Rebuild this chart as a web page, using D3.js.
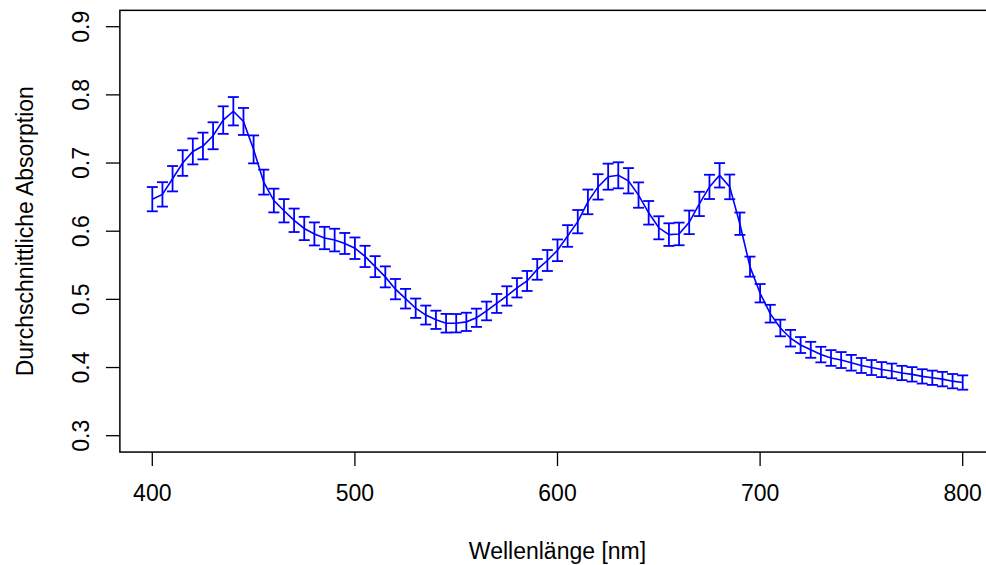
<!DOCTYPE html>
<html><head><meta charset="utf-8">
<script src="https://cdn.jsdelivr.net/npm/d3@7"></script>
<style>body{margin:0;background:#fff}svg{display:block}text{font-family:"Liberation Sans",Arial,Helvetica,sans-serif;fill:#000}</style>
</head><body><svg id="c" width="986" height="565"></svg>
<script>
const wavelengths = [400,405,410,415,420,425,430,435,440,445,450,455,460,465,470,475,480,485,490,495,
500,505,510,515,520,525,530,535,540,545,550,555,560,565,570,575,580,585,590,595,
600,605,610,615,620,625,630,635,640,645,650,655,660,665,670,675,680,685,690,695,
700,705,710,715,720,725,730,735,740,745,750,755,760,765,770,775,780,785,790,795,800];
const meanAbs = [0.647,0.654,0.677,0.700,0.717,0.725,0.740,0.763,0.776,0.761,0.720,0.672,0.645,0.630,0.616,0.604,0.596,0.590,0.587,0.582,
0.575,0.563,0.548,0.533,0.515,0.501,0.487,0.477,0.470,0.465,0.465,0.467,0.473,0.483,0.494,0.505,0.517,0.527,0.544,0.557,
0.572,0.593,0.614,0.643,0.665,0.680,0.682,0.674,0.653,0.627,0.605,0.595,0.596,0.613,0.640,0.665,0.682,0.665,0.611,0.548,
0.509,0.479,0.458,0.443,0.433,0.426,0.419,0.414,0.411,0.407,0.403,0.400,0.397,0.395,0.392,0.390,0.387,0.385,0.383,0.380,0.378];
const errAbs = [0.0178,0.0179,0.0186,0.0188,0.0190,0.0196,0.0198,0.0202,0.0208,0.0198,0.0205,0.0183,0.0174,0.0171,0.0172,0.0171,0.0169,0.0164,0.0166,0.0154,
0.0158,0.0156,0.0154,0.0154,0.0149,0.0144,0.0142,0.0139,0.0134,0.0137,0.0135,0.0134,0.0134,0.0137,0.0139,0.0142,0.0142,0.0147,0.0152,0.0154,
0.0159,0.0159,0.0171,0.0181,0.0186,0.0191,0.0191,0.0186,0.0186,0.0173,0.0169,0.0166,0.0166,0.0173,0.0178,0.0178,0.0179,0.0181,0.0164,0.0147,
0.0135,0.0130,0.0122,0.0122,0.0117,0.0117,0.0114,0.0115,0.0117,0.0115,0.0110,0.0110,0.0110,0.0108,0.0105,0.0106,0.0105,0.0105,0.0106,0.0105,0.0105];
const xTicks = [400,500,600,700,800];
const yTicks = [0.3,0.4,0.5,0.6,0.7,0.8,0.9];
const xLabel = "Wellenlänge [nm]";
const yLabel = "Durchschnittliche Absorption";

const svg = d3.select("#c");
const x = d3.scaleLinear().domain([400,800]).range([152.3,962.7]);
const y = d3.scaleLinear().domain([0.3,0.9]).range([435.7,26.7]);
const x0 = x(384), x1 = x(816), y0 = y(0.276), y1 = y(0.924);
const fs = 23;
const blue = "#0000ff";

const data = wavelengths.map((w,i)=>({w, m: meanAbs[i], e: errAbs[i]}));

// line
svg.append("path").datum(data)
  .attr("d", d3.line().x(d=>x(d.w)).y(d=>y(d.m)))
  .attr("fill","none").attr("stroke",blue).attr("stroke-width",1.6);

// error bars
const cap = 5.5;
const eb = svg.append("g").attr("stroke",blue).attr("stroke-width",1.8).attr("fill","none");
data.forEach(d=>{
  const cx = x(d.w), ty = y(d.m+d.e), by = y(d.m-d.e);
  eb.append("line").attr("x1",cx).attr("x2",cx).attr("y1",ty).attr("y2",by);
  eb.append("line").attr("x1",cx-cap).attr("x2",cx+cap).attr("y1",ty).attr("y2",ty);
  eb.append("line").attr("x1",cx-cap).attr("x2",cx+cap).attr("y1",by).attr("y2",by);
});

// box
svg.append("rect").attr("x",x0).attr("y",y1).attr("width",x1-x0).attr("height",y0-y1)
  .attr("fill","none").attr("stroke","#000").attr("stroke-width",1.5);

// x axis
const xa = svg.append("g");
xTicks.forEach(t=>{
  xa.append("line").attr("x1",x(t)).attr("x2",x(t)).attr("y1",y0).attr("y2",y0+14).attr("stroke","#000").attr("stroke-width",1.3);
  xa.append("text").attr("x",x(t)).attr("y",501).attr("text-anchor","middle").attr("font-size",fs).text(t);
});
// y axis
const ya = svg.append("g");
yTicks.forEach(t=>{
  ya.append("line").attr("x1",x0).attr("x2",x0-14).attr("y1",y(t)).attr("y2",y(t)).attr("stroke","#000").attr("stroke-width",1.3);
  ya.append("text").attr("transform",`translate(89,${y(t)}) rotate(-90)`).attr("text-anchor","middle").attr("font-size",fs).text(d3.format(".1f")(t));
});
// titles
svg.append("text").attr("x",(x0+x1)/2).attr("y",559).attr("text-anchor","middle").attr("font-size",fs).text(xLabel);
svg.append("text").attr("transform",`translate(33,${(y0+y1)/2}) rotate(-90)`).attr("text-anchor","middle").attr("font-size",fs).text(yLabel);
</script></body></html>
